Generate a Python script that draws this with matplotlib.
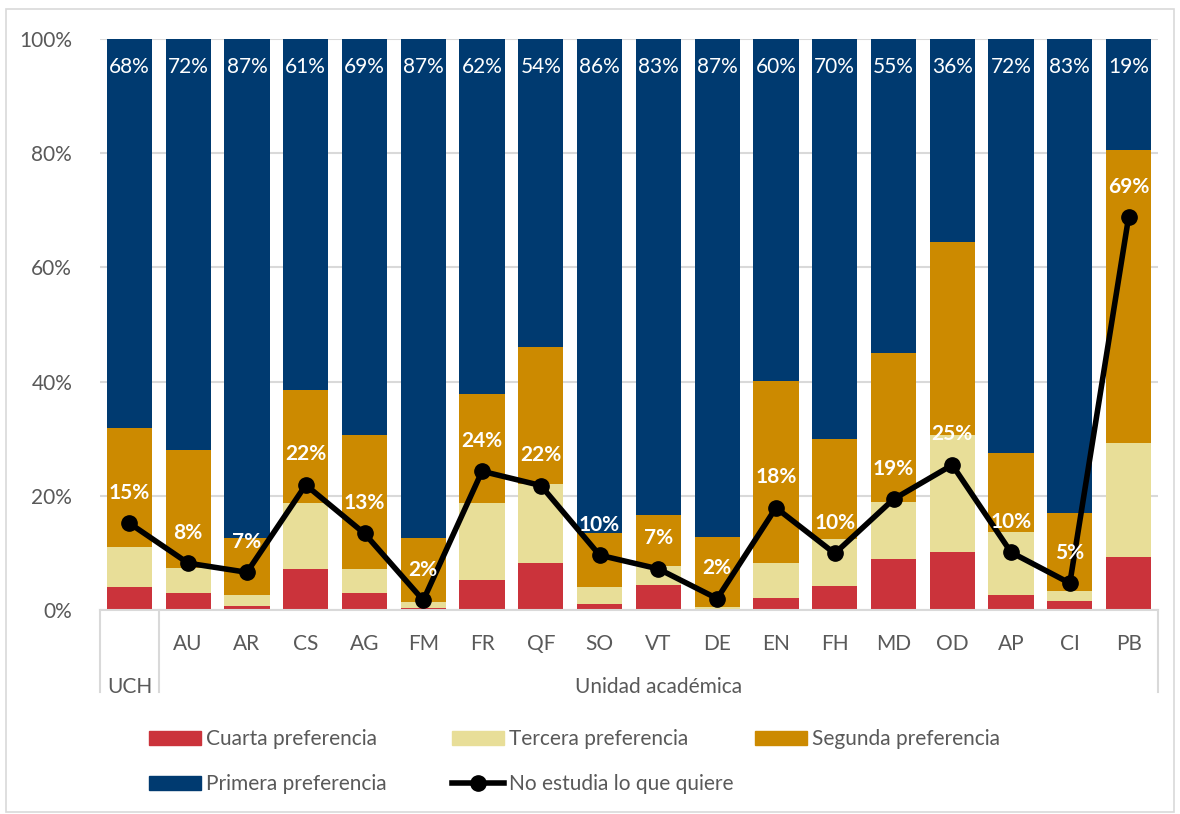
import numpy as np
import matplotlib
matplotlib.use("Agg")
import matplotlib.pyplot as plt
from matplotlib.patches import Patch, Rectangle
from matplotlib.lines import Line2D
import matplotlib.transforms as mtransforms

plt.rcParams['font.family'] = ['Lato', 'DejaVu Sans']

# data (percent of students per preference)
unidades = ['UCH', 'AU', 'AR', 'CS', 'AG', 'FM', 'FR', 'QF', 'SO', 'VT',
            'DE', 'EN', 'FH', 'MD', 'OD', 'AP', 'CI', 'PB']
cuarta = [4.0, 2.9, 0.7, 7.2, 2.9, 0.4, 5.2, 8.3, 1.0, 4.3,
          0.2, 2.1, 4.2, 8.9, 10.2, 2.6, 1.6, 9.3]
tercera = [7.0, 4.4, 2.0, 11.5, 4.2, 1.0, 13.6, 13.8, 3.1, 3.4,
           0.3, 6.2, 8.3, 10.1, 20.5, 11.1, 1.8, 19.9]
segunda = [20.8, 20.7, 9.9, 19.9, 23.5, 11.2, 19.0, 24.0, 9.4, 8.9,
           12.2, 31.8, 17.4, 26.0, 33.7, 13.8, 13.6, 51.4]
primera = [68.2, 72.0, 87.4, 61.4, 69.4, 87.4, 62.2, 53.9, 86.5, 83.4,
           87.3, 59.9, 70.1, 55.0, 35.6, 72.5, 83.0, 19.4]
no_estudia = [15.2, 8.2, 6.6, 21.9, 13.4, 1.7, 24.3, 21.8, 9.6, 7.2,
              2.0, 17.9, 9.9, 19.4, 25.4, 10.1, 4.7, 68.8]

c_cuarta = '#CB333B'
c_tercera = '#E8DE98'
c_segunda = '#CC8A00'
c_primera = '#003A70'
gris = '#595959'
grid_c = '#D9D9D9'
fs = 15

fig = plt.figure(figsize=(11.8, 8.14), dpi=100)
ax = fig.add_axes([100/1180, 1-610/814, 1058/1180, 571/814])

x = np.arange(len(unidades))
w = 0.77
b1 = np.array(cuarta)
b2 = b1 + np.array(tercera)
b3 = b2 + np.array(segunda)
ax.bar(x, cuarta, w, color=c_cuarta, zorder=2)
ax.bar(x, tercera, w, bottom=b1, color=c_tercera, zorder=2)
ax.bar(x, segunda, w, bottom=b2, color=c_segunda, zorder=2)
ax.bar(x, primera, w, bottom=b3, color=c_primera, zorder=2)
ax.plot(x, no_estudia, color='black', lw=4, marker='o', markersize=11, zorder=4)

# labels
for i in range(len(unidades)):
    ax.annotate(f"{round(primera[i])}%", (x[i], 100), xytext=(0, -20),
                textcoords='offset points', ha='center', va='center',
                color='white', fontsize=fs, zorder=5)
    ax.annotate(f"{round(no_estudia[i])}%", (x[i], no_estudia[i]), xytext=(0, 22),
                textcoords='offset points', ha='center', va='center',
                color='white', fontsize=fs, fontweight='bold', zorder=5)

ax.set_xlim(-0.5, len(unidades) - 0.5)
ax.set_ylim(0, 100)
ax.set_yticks(np.arange(0, 101, 20))
ax.set_yticklabels([f"{v}%" for v in range(0, 101, 20)])
ax.tick_params(axis='y', length=0, pad=20, labelsize=fs, labelcolor=gris)
ax.yaxis.grid(True, color=grid_c, lw=1.5, zorder=0)
for s in ['left', 'right', 'top']:
    ax.spines[s].set_visible(False)
ax.spines['bottom'].set_color(grid_c)
ax.spines['bottom'].set_linewidth(1.5)

ax.set_xticks(x[1:])
ax.set_xticklabels(unidades[1:])
ax.tick_params(axis='x', length=0, pad=17, labelsize=fs, labelcolor=gris)

trans = mtransforms.blended_transform_factory(ax.transData, ax.transAxes)
for xv in [-0.5, 0.5, len(unidades) - 0.5]:
    ax.plot([xv, xv], [0, -0.144], color=grid_c, lw=1.5, transform=trans, clip_on=False)
ax.text(0, -0.135, unidades[0], transform=trans, ha='center', va='center',
        fontsize=fs, color=gris)
ax.text((1 + len(unidades) - 1) / 2, -0.135, 'Unidad académica', transform=trans,
        ha='center', va='center', fontsize=fs, color=gris)

# legend, one entry per spot like excel does it
entries = [
    (Patch(color=c_cuarta), 'Cuarta preferencia', 149, 739),
    (Patch(color=c_tercera), 'Tercera preferencia', 452, 739),
    (Patch(color=c_segunda), 'Segunda preferencia', 755, 739),
    (Patch(color=c_primera), 'Primera preferencia', 149, 784),
    (Line2D([], [], color='black', lw=4, marker='o', markersize=11), 'No estudia lo que quiere', 452, 784),
]
for h, lab, px, py in entries:
    fig.legend([h], [lab], loc='center left', bbox_to_anchor=(px/1180, 1-py/814),
               frameon=False, borderpad=0, borderaxespad=0, handlelength=2.5,
               handleheight=0.65, handletextpad=0.25, fontsize=fs, labelcolor=gris)

fig.patches.append(Rectangle((6/1180, 2/814), 1168/1180, 803/814, transform=fig.transFigure,
                             fill=False, edgecolor=grid_c, lw=1.2))

fig.savefig('out.png', dpi=100)
